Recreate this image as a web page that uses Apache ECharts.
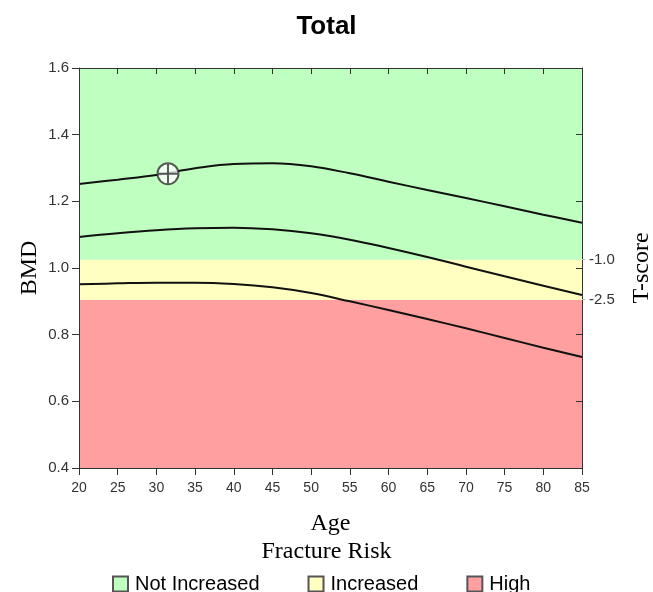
<!DOCTYPE html>
<html>
<head>
<meta charset="utf-8">
<script src="https://cdn.jsdelivr.net/npm/echarts@6/dist/echarts.min.js"></script>
<style>html,body{margin:0;padding:0;background:#fff;}#c{width:653px;height:592px;}</style>
</head>
<body>
<div id="c"></div>
<script>
var ages = [20,25,30,35,40,45,50,55,60,65,70,75,80,85];
var curveTop = [1.252,1.265,1.279,1.299,1.312,1.314,1.305,1.284,1.259,1.234,1.210,1.185,1.160,1.136];
var curveMid = [1.093,1.104,1.113,1.119,1.121,1.116,1.104,1.085,1.060,1.033,1.004,0.975,0.947,0.919];
var curveLow = [0.951,0.954,0.956,0.956,0.952,0.942,0.925,0.900,0.874,0.847,0.819,0.790,0.761,0.733];
var patient = [[31.5, 1.283]];
var bandEdges = [0.4, 0.905, 1.025, 1.6];
var bandNames = ['High', 'Increased', 'Not Increased'];
var bandColors = ['#ff9f9f', '#ffffc0', '#bfffbf'];
var tscoreValues = [1.025, 0.905];
var tscoreLabels = ['-1.0', '-2.5'];

function pairs(ys){ return ages.map(function(a,i){ return [a, ys[i]]; }); }

var serif = 'Liberation Serif';
var sans = 'Liberation Sans';
var tickColor = '#333';

var bandAreas = bandNames.map(function(n,i){
  return [{yAxis: bandEdges[i], xAxis: 20, itemStyle:{color: bandColors[i]}}, {yAxis: bandEdges[i+1], xAxis: 85}];
});

var lineStyle = {color:'#111', width:2};
var series = [
  {type:'line', name:'bands', data:[], silent:true, z:1,
   markArea:{silent:true, data: bandAreas, itemStyle:{opacity:1}}},
  {type:'line', data:pairs(curveTop), smooth:0.4, symbol:'none', lineStyle:lineStyle, z:3},
  {type:'line', data:pairs(curveMid), smooth:0.4, symbol:'none', lineStyle:lineStyle, z:3},
  {type:'line', data:pairs(curveLow), smooth:0.4, symbol:'none', lineStyle:lineStyle, z:3},
  {type:'scatter', data:patient, z:5, symbolSize:21,
   symbol:'path://M0,10 A10,10 0 1,1 20,10 A10,10 0 1,1 0,10 Z M10,0 L10,20 M0,10 L20,10',
   itemStyle:{color:'#fff', borderColor:'#333', borderWidth:2}}
];
bandNames.slice().reverse().forEach(function(n, i){
  var c = bandColors.slice().reverse()[i];
  series.push({type:'bar', name:n, data:[], itemStyle:{color:c, borderColor:'#555', borderWidth:1}});
});

var option = {
  animation:false,
  backgroundColor:'#fff',
  title:[
    {text:'Total', left:'center', top:9, textStyle:{fontFamily:sans, fontSize:26, fontWeight:'bold', color:'#000'}},
    {text:'Fracture Risk', left:'center', top:535, textStyle:{fontFamily:serif, fontSize:24, fontWeight:'normal', color:'#000'}}
  ],
  legend:{
    data:['Not Increased','Increased','High'],
    left:107, top:569, itemWidth:15, itemHeight:15, itemGap:48, icon:'rect',
    textStyle:{fontFamily:sans, fontSize:20, color:'#000', padding:[0,0,0,2]}
  },
  grid:{left:79, right:71, top:68, bottom:124, containLabel:false, outerBoundsMode:'none'},
  xAxis:[
    {type:'value', min:20, max:85, interval:5, position:'bottom', z:10,
     name:'Age', nameLocation:'middle', nameGap:44,
     nameTextStyle:{fontFamily:serif, fontSize:24, color:'#000'},
     axisLine:{show:true, lineStyle:{color:'#333', width:1}},
     axisTick:{show:true, length:7, lineStyle:{color:'#333'}},
     axisLabel:{fontFamily:sans, fontSize:14, color:tickColor, margin:13},
     splitLine:{show:false}},
    {type:'value', min:20, max:85, interval:5, position:'top', z:10,
     axisLine:{show:true, lineStyle:{color:'#333', width:1}},
     axisTick:{show:true, inside:true, length:6, lineStyle:{color:'#333'}},
     axisLabel:{show:false}, splitLine:{show:false}}
  ],
  yAxis:[
    {type:'value', min:0.4, max:1.6, interval:0.2, position:'left', z:10,
     name:'BMD', nameLocation:'middle', nameGap:37, nameMoveOverlap:false,
     nameTextStyle:{fontFamily:serif, fontSize:24, color:'#000'},
     axisLine:{show:true, lineStyle:{color:'#333', width:1}},
     axisTick:{show:true, length:7, lineStyle:{color:'#333'}},
     axisLabel:{fontFamily:sans, fontSize:15, color:tickColor, margin:10,
       formatter:function(v){return v.toFixed(1);}},
     splitLine:{show:false}},
    {type:'value', min:0.4, max:1.6, interval:0.2, position:'right', z:10,
     axisLine:{show:true, lineStyle:{color:'#333', width:1}},
     axisTick:{show:true, inside:true, length:6, lineStyle:{color:'#333'}},
     axisLabel:{show:false}, splitLine:{show:false}},
    {type:'value', min:0.4, max:1.6, position:'right', z:10,
     name:'T-score', nameLocation:'middle', nameGap:48, nameRotate:90,
     nameTextStyle:{fontFamily:serif, fontSize:24, color:'#000'},
     axisLine:{show:false},
     axisTick:{show:true, length:3, lineStyle:{color:'#bbb'}, customValues:tscoreValues},
     axisLabel:{fontFamily:sans, fontSize:15, color:tickColor, margin:7,
       customValues:tscoreValues,
       formatter:function(v){ var i = tscoreValues.findIndex(function(t){return Math.abs(t-v)<1e-6;}); return i>=0?tscoreLabels[i]:''; }},
     splitLine:{show:false}}
  ],
  series: series
};
var chart = echarts.init(document.getElementById('c'));
chart.setOption(option);
</script>
</body>
</html>
